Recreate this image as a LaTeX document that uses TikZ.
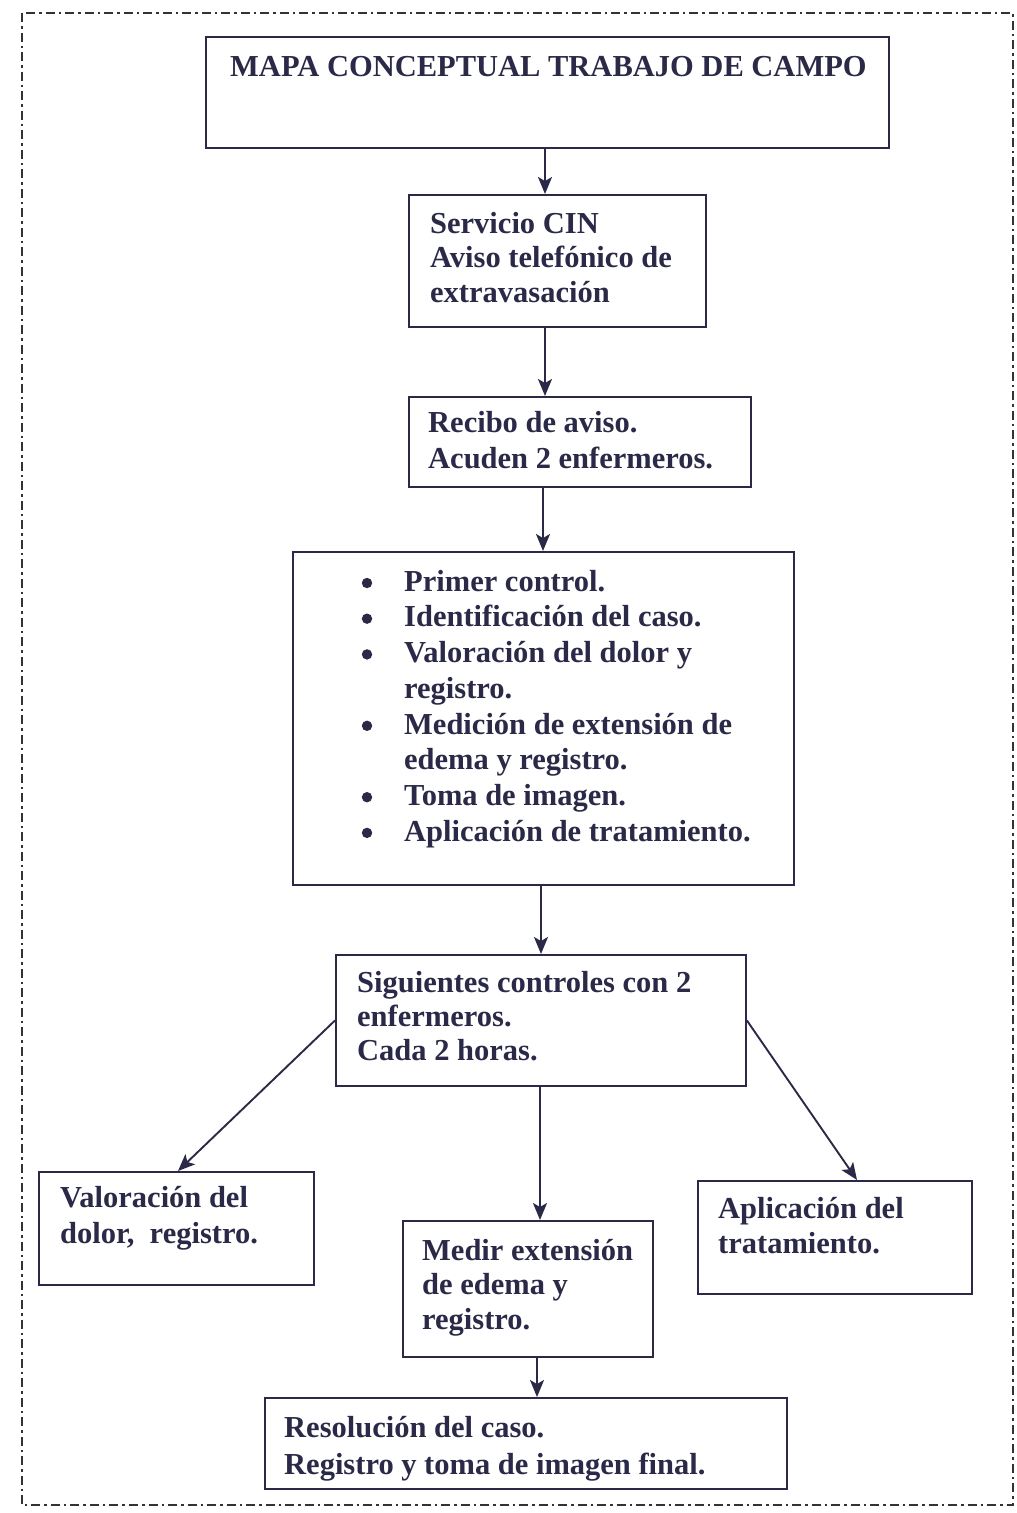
\documentclass[tikz,border=0pt]{standalone}
\usepackage{fontspec}
\setmainfont{Liberation Serif}
\usetikzlibrary{arrows.meta,calc}
\definecolor{ink}{RGB}{42,42,72}
\newcommand{\firstl}{\rule{0pt}{24pt}}
\begin{document}
\begin{tikzpicture}[x=1pt,y=-1pt,
  box/.style={draw=ink, line width=1.9pt, anchor=north west, inner sep=0pt},
  txt/.style={anchor=north west, inner sep=0pt, align=left, text=ink,
              font=\fontsize{30.5}{35.5}\selectfont\bfseries},
  arr/.style={draw=ink, line width=1.9pt, -{Stealth[length=17pt,width=14pt,inset=4pt]}},
  dot/.style={fill=ink},
  frame/.style={draw=black!80, line width=1.7pt, dash pattern=on 9pt off 4pt on 2.5pt off 4pt}]
\useasboundingbox (0,0) rectangle (1017,1513);
\draw[frame] (22,13) rectangle (1013,1505);

% boxes
\node[box, minimum width=683pt, minimum height=111pt] (title) at (205,36) {};
\node[box, minimum width=297pt, minimum height=132pt] (serv) at (408,194) {};
\node[box, minimum width=342pt, minimum height=90pt] (rec) at (408,396) {};
\node[box, minimum width=501pt, minimum height=333pt] (bul) at (292,551) {};
\node[box, minimum width=410pt, minimum height=131pt] (sig) at (335,954) {};
\node[box, minimum width=275pt, minimum height=113pt] (val) at (38,1171) {};
\node[box, minimum width=250pt, minimum height=136pt] (med) at (402,1220) {};
\node[box, minimum width=274pt, minimum height=113pt] (apl) at (697,1180) {};
\node[box, minimum width=522pt, minimum height=91pt] (res) at (264,1397) {};

% texts
\node[txt] (titlet) at (230,52) {\firstl MAPA CONCEPTUAL TRABAJO DE CAMPO};
\node[txt, font=\fontsize{30.5}{34.5}\selectfont\bfseries] (servt) at (430,209) {\firstl Servicio CIN\\Aviso telefónico de\\extravasación};
\node[txt, font=\fontsize{30.5}{36}\selectfont\bfseries] (rect) at (428,408) {\firstl Recibo de aviso.\\Acuden 2 enfermeros.};
\node[txt, font=\fontsize{30.5}{35.7}\selectfont\bfseries] (bult) at (404,567) {\firstl Primer control.\\
Identificación del caso.\\
Valoración del dolor y\\
registro.\\
Medición de extensión de\\
edema y registro.\\
Toma de imagen.\\
Aplicación de tratamiento.};
\node[txt, font=\fontsize{30.5}{34}\selectfont\bfseries] (sigt) at (357,968) {\firstl Siguientes controles con 2\\enfermeros.\\Cada 2 horas.};
\node[txt, font=\fontsize{30.5}{36}\selectfont\bfseries] (valt) at (60,1183) {\firstl Valoración del\\dolor,\ \ registro.};
\node[txt, font=\fontsize{30.5}{34.5}\selectfont\bfseries] (medt) at (422,1236) {\firstl Medir extensión\\de edema y\\registro.};
\node[txt] (aplt) at (718,1194) {\firstl Aplicación del\\tratamiento.};
\node[txt, font=\fontsize{30.5}{37}\selectfont\bfseries] (rest) at (284,1413) {\firstl Resolución del caso.\\Registro y toma de imagen final.};

% bullets
\foreach \k in {0,1,2,4,6,7}
  \fill[dot] ($(bult.north west)+(-37,{24+35.7*\k-8})$) circle (5.2pt);

% connector x positions
\coordinate (x1) at (545,0);
\coordinate (x2) at (543,0);
\coordinate (x3) at (541,0);
\coordinate (x4) at (540,0);
\coordinate (x5) at (537,0);
\coordinate (xv) at (178,0);
\coordinate (xa) at (857,0);

% connectors
\draw[arr] (title.south -| x1) -- (serv.north -| x1);
\draw[arr] (serv.south -| x1) -- (rec.north -| x1);
\draw[arr] (rec.south -| x2) -- (bul.north -| x2);
\draw[arr] (bul.south -| x3) -- (sig.north -| x3);
\draw[arr] (sig.south -| x4) -- (med.north -| x4);
\draw[arr] (med.south -| x5) -- (res.north -| x5);
\draw[arr] (sig.west) -- (val.north -| xv);
\draw[arr] (sig.east) -- (apl.north -| xa);
\end{tikzpicture}
\end{document}
